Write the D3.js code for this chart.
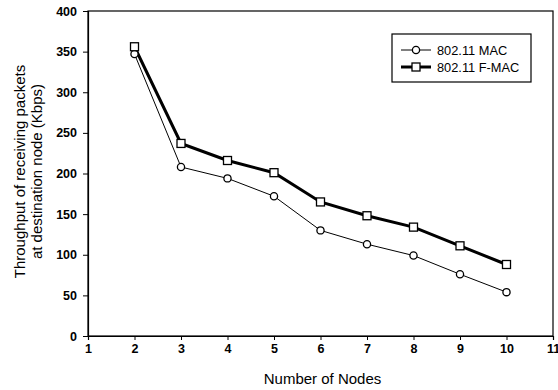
<!DOCTYPE html>
<html>
<head>
<meta charset="utf-8">
<script src="https://cdn.jsdelivr.net/npm/d3@7"></script>
<style>
  body { margin: 0; background: #fff; }
  text { font-family: "Liberation Sans", Arial, sans-serif; fill: #000; }
</style>
</head>
<body>
<div id="chart"></div>
<script>
// data
const nodes = [2, 3, 4, 5, 6, 7, 8, 9, 10];
const macValues = [347, 208, 194, 172, 130, 113, 99, 76, 54];
const fmacValues = [356, 237, 216, 201, 165, 148, 134, 111, 88];
const xTicks = [1, 2, 3, 4, 5, 6, 7, 8, 9, 10, 11];
const yTicks = [0, 50, 100, 150, 200, 250, 300, 350, 400];
const seriesNames = ["802.11 MAC", "802.11 F-MAC"];

const width = 558;
const height = 390;
const margin = { top: 11, right: 5, bottom: 54, left: 88 };

const svg = d3.select("#chart")
    .append("svg")
    .attr("width", width)
    .attr("height", height);

const x = d3.scaleLinear()
    .domain([1, 11])
    .range([margin.left, width - margin.right]);

const y = d3.scaleLinear()
    .domain([0, 400])
    .range([height - margin.bottom, margin.top]);

// frame
svg.append("rect")
    .attr("x", x(1))
    .attr("y", y(400))
    .attr("width", x(11) - x(1))
    .attr("height", y(0) - y(400))
    .attr("fill", "none")
    .attr("stroke", "#000")
    .attr("stroke-width", 1.2);

const xAxis = svg.append("g")
    .attr("transform", `translate(0,${y(0)})`)
    .call(d3.axisBottom(x).tickValues(xTicks).tickSize(4).tickPadding(4).tickFormat(d3.format("d")));

const yAxis = svg.append("g")
    .attr("transform", `translate(${x(1)},0)`)
    .call(d3.axisLeft(y).tickValues(yTicks).tickSize(5).tickPadding(6));

[xAxis, yAxis].forEach(g => {
    g.select(".domain").attr("stroke", "#000").attr("stroke-width", 1.2);
    g.selectAll(".tick line").attr("stroke", "#000");
    g.selectAll("text")
        .attr("font-size", 12.5)
        .attr("font-weight", "bold")
        .style("font-family", "Liberation Sans, Arial, sans-serif");
});

// axis titles
svg.append("text")
    .attr("x", (x(1) + x(11)) / 2 + 2)
    .attr("y", 384)
    .attr("text-anchor", "middle")
    .attr("font-size", 15)
    .text("Number of Nodes");

const yTitle = svg.append("text")
    .attr("transform", `translate(0,${(y(0) + y(400)) / 2 - 2}) rotate(-90)`)
    .attr("text-anchor", "middle")
    .attr("font-size", 15);
yTitle.append("tspan").attr("x", 0).attr("y", 25).text("Throughput of receiving packets");
yTitle.append("tspan").attr("x", 0).attr("y", 42).text("at destination node (Kbps)");

// lines
const macData = nodes.map((n, i) => ({ n, v: macValues[i] }));
const fmacData = nodes.map((n, i) => ({ n, v: fmacValues[i] }));

const line = d3.line().x(d => x(d.n)).y(d => y(d.v));

svg.append("path")
    .datum(macData)
    .attr("d", line)
    .attr("fill", "none")
    .attr("stroke", "#000")
    .attr("stroke-width", 1);

svg.append("path")
    .datum(fmacData)
    .attr("d", line)
    .attr("fill", "none")
    .attr("stroke", "#000")
    .attr("stroke-width", 3);

svg.append("g")
    .selectAll("circle")
    .data(macData)
    .join("circle")
    .attr("cx", d => x(d.n))
    .attr("cy", d => y(d.v))
    .attr("r", 3.6)
    .attr("fill", "#fff")
    .attr("stroke", "#000")
    .attr("stroke-width", 1.3);

svg.append("g")
    .selectAll("rect")
    .data(fmacData)
    .join("rect")
    .attr("x", d => x(d.n) - 4)
    .attr("y", d => y(d.v) - 4)
    .attr("width", 8)
    .attr("height", 8)
    .attr("fill", "#fff")
    .attr("stroke", "#000")
    .attr("stroke-width", 1.3);

// legend
const legend = svg.append("g").attr("transform", "translate(392,34)");
legend.append("rect")
    .attr("width", 139)
    .attr("height", 48)
    .attr("fill", "#fff")
    .attr("stroke", "#000")
    .attr("stroke-width", 1.2);

seriesNames.forEach((name, i) => {
    const ly = 16 + i * 17;
    const row = legend.append("g");
    row.append("line")
        .attr("x1", 9).attr("x2", 39)
        .attr("y1", ly).attr("y2", ly)
        .attr("stroke", "#000")
        .attr("stroke-width", i === 0 ? 1 : 3);
    if (i === 0) {
        row.append("circle").attr("cx", 24).attr("cy", ly).attr("r", 3.6)
            .attr("fill", "#fff").attr("stroke", "#000").attr("stroke-width", 1.3);
    } else {
        row.append("rect").attr("x", 20).attr("y", ly - 4).attr("width", 8).attr("height", 8)
            .attr("fill", "#fff").attr("stroke", "#000").attr("stroke-width", 1.3);
    }
    row.append("text")
        .attr("x", 45)
        .attr("y", ly + 4.5)
        .attr("font-size", 12.8)
        .text(name);
});
</script>
</body>
</html>
